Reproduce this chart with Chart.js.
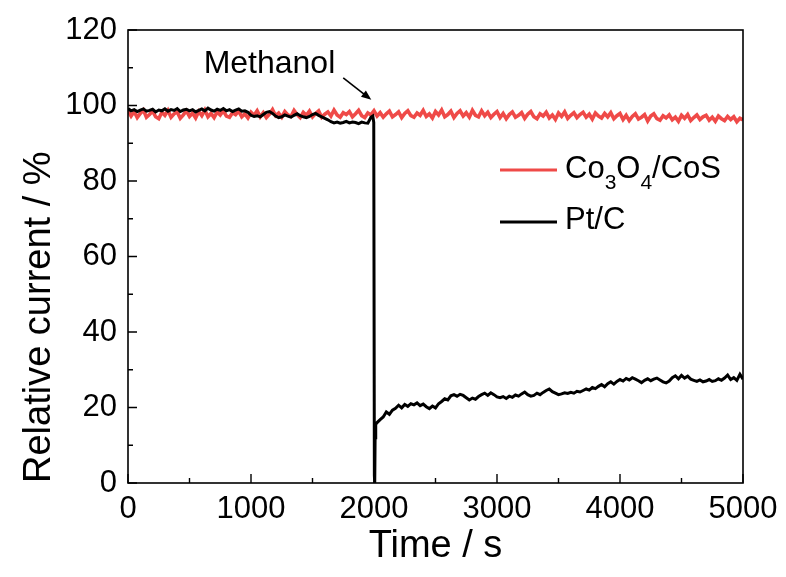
<!DOCTYPE html>
<html>
<head>
<meta charset="utf-8">
<script src="https://cdn.jsdelivr.net/npm/chart.js@4.4.1/dist/chart.umd.min.js"></script>
<style>
    html, body { margin: 0; padding: 0; background: #fff; }
</style>
</head>
<body>
<canvas id="chart" width="786" height="577"></canvas>
<script>
// sampling step of the traces (s)
const sampleStep = 25;

// Co3O4/CoS, t = 0 .. 5000 s
const cosCurrent = [
    98.6, 97.2, 98.4, 96.8, 97.9, 98.8, 96.9, 97.6, 98.5, 97.0, 96.5, 98.2, 97.4, 98.7, 96.9, 97.8, 98.3, 96.6, 97.5, 98.6,
    97.1, 98.0, 96.7, 98.4, 97.3, 98.8, 97.0, 97.9, 96.8, 98.3, 97.5, 98.6, 97.2, 96.9, 98.1, 97.6, 98.5, 97.0, 97.8, 96.7, 98.2,
    97.4, 98.6, 97.0, 98.1, 96.8, 97.7, 98.9, 97.3, 98.0, 96.9, 98.4, 97.5, 97.1, 98.7, 97.6, 96.8, 98.2, 97.4, 98.5, 97.0,
    97.9, 98.6, 96.9, 97.7, 98.3, 97.2, 98.8, 97.5, 96.9, 98.1, 97.6, 98.4, 97.0, 97.8, 98.7, 97.3, 96.8, 98.0, 97.5, 98.6,
    97.2, 98.1, 96.9, 97.8, 98.5, 97.0, 97.6, 98.3, 96.8, 97.9, 98.6, 97.3, 96.9, 98.0, 97.4, 98.7, 97.1, 97.8, 96.7, 98.4,
    97.5, 98.8, 97.0, 97.6, 98.5, 96.8, 97.9, 98.6, 97.2, 98.1, 96.9, 98.7, 97.4, 97.0, 98.6, 97.3, 98.2, 96.8, 97.7, 98.4,
    96.8, 97.9, 96.5, 97.6, 98.3, 96.9, 97.4, 98.1, 96.6, 97.7, 98.4, 97.0, 96.5, 97.8, 97.2, 98.2, 96.7, 97.5, 96.3, 98.0,
    97.1, 98.3, 96.6, 97.4, 98.1, 96.8, 97.6, 98.2, 96.9, 97.7, 96.4, 98.0, 97.2, 96.7, 97.9, 97.0, 98.1, 96.5, 97.3, 97.9,
    96.3, 97.4, 96.0, 97.1, 97.8, 96.4, 96.9, 97.6, 95.9, 97.2, 97.8, 96.5, 96.1, 97.3, 96.7, 97.5, 96.2, 96.9, 95.8, 97.4,
    96.6, 97.6, 96.0, 96.8, 97.5, 96.3, 97.0, 97.4, 96.1, 96.9, 95.8, 97.2, 96.5, 96.0, 97.1, 96.3, 97.0, 95.7, 96.6, 96.2
];

// Pt/C before methanol, t = 0 .. 1975 s
const ptBeforeCurrent = [
    99.2, 98.6, 98.9, 98.4, 98.8, 99.1, 98.5, 98.7, 99.0, 98.3, 98.8, 98.6, 99.1, 98.5, 98.9, 98.7, 99.2, 98.4, 98.8, 99.0,
    98.6, 98.9, 98.3, 98.7, 99.1, 98.6, 99.3, 98.8, 98.5, 99.0, 98.7, 99.2, 98.6, 98.9, 98.4, 98.8, 99.1, 98.5, 98.6, 98.2, 97.4,
    97.1, 97.3, 97.0, 97.6, 98.2, 98.4, 97.9, 97.2, 96.8, 97.0, 97.5, 97.2, 96.9, 97.4, 97.8, 97.3, 97.0, 96.8, 97.1, 97.6,
    97.9, 97.4, 97.0, 96.6, 96.2, 95.7, 95.4, 95.6, 95.3, 95.5, 95.8, 95.4, 95.6, 95.5, 95.2, 95.6, 95.4, 95.3, 96.9
];

// Pt/C at the methanol injection
const ptDropTime = [1990, 1998, 2003, 2006, 2009, 2014];
const ptDropCurrent = [97.2, 95.5, 2.0, 0.0, 12.0, 15.5];

// Pt/C after methanol, t = 2025 .. 5000 s
const ptAfterCurrent = [
    16.0, 16.8, 17.5, 18.8, 18.2, 19.3, 19.8, 20.6, 19.9, 20.8, 20.3, 21.0, 20.7, 21.2, 20.5, 20.9, 20.2, 19.7, 20.4, 19.9,
    21.0, 21.6, 22.3, 22.0, 23.1, 23.4, 23.0, 23.5, 23.2, 22.6, 22.0, 22.5, 22.2, 22.9, 23.4, 23.8, 23.2, 23.9, 23.4, 22.8,
    22.6, 22.9, 22.4, 23.0, 22.7, 23.3, 23.0, 23.6, 24.1, 23.4, 23.0, 23.2, 23.8, 23.4, 24.0, 24.5, 24.9, 24.2, 23.8, 23.4,
    23.6, 23.9, 23.7, 24.0, 23.8, 24.3, 24.1, 24.5, 24.9, 24.6, 25.3, 25.0, 25.6, 26.1, 25.5, 26.3, 26.8, 26.2, 26.9, 27.4,
    27.0, 27.7, 27.3, 27.9, 27.5, 27.1, 26.6, 27.2, 27.6, 27.1, 27.5, 27.8, 27.3, 26.8, 26.5, 27.0, 27.9, 28.4, 27.6, 28.5,
    27.8, 28.3, 27.5, 27.2, 26.9, 27.3, 26.8, 27.0, 27.4, 26.9, 27.1, 27.6, 27.2, 27.8, 28.6, 27.4, 27.9, 27.2, 28.8, 27.5
];

const xTicks = [0, 1000, 2000, 3000, 4000, 5000];
const yTicks = [0, 20, 40, 60, 80, 100, 120];

const seriesNames = ["Co3O4/CoS", "Pt/C"];
const seriesColors = ["#ef4a48", "#000000"];

// annotation anchor in data units
const methanolText = "Methanol";
const methanolLabelAt = [1150, 108.5];
const methanolArrowFrom = [1750, 107.3];
const methanolArrowTo = [1978, 101.5];

const fontFamily = "'Liberation Sans', Arial, sans-serif";

const cosPoints = cosCurrent.map((v, i) => ({ x: i * sampleStep, y: v }));
const ptPoints = [].concat(
    ptBeforeCurrent.map((v, i) => ({ x: i * sampleStep, y: v })),
    ptDropTime.map((t, i) => ({ x: t, y: ptDropCurrent[i] })),
    ptAfterCurrent.map((v, i) => ({ x: 2025 + i * sampleStep, y: v }))
);

// frame, inward ticks, legend with subscripts and the arrow note
const decorPlugin = {
    id: "decor",
    afterDatasetsDraw(chart) {
        const ctx = chart.ctx;
        const area = chart.chartArea;
        const xs = chart.scales.x;
        const ys = chart.scales.y;

        ctx.save();
        ctx.strokeStyle = "#000";
        ctx.lineWidth = 1.6;
        ctx.strokeRect(area.left, area.top, area.right - area.left, area.bottom - area.top);

        ctx.lineWidth = 1.4;
        ctx.beginPath();
        for (let v = 0; v <= 5000; v += 500) {
            const px = xs.getPixelForValue(v);
            const len = v % 1000 === 0 ? 9 : 5;
            ctx.moveTo(px, area.bottom);
            ctx.lineTo(px, area.bottom - len);
        }
        for (let v = 0; v <= 120; v += 10) {
            const py = ys.getPixelForValue(v);
            const len = v % 20 === 0 ? 9 : 5;
            ctx.moveTo(area.left, py);
            ctx.lineTo(area.left + len, py);
        }
        ctx.stroke();

        // legend
        const lx = area.left + 372;
        const rows = [area.top + 140, area.top + 192];
        ctx.lineWidth = 3;
        ctx.textBaseline = "alphabetic";
        ctx.fillStyle = "#000";
        rows.forEach((ry, i) => {
            ctx.strokeStyle = seriesColors[i];
            ctx.beginPath();
            ctx.moveTo(lx, ry);
            ctx.lineTo(lx + 57, ry);
            ctx.stroke();
        });
        let tx = lx + 65;
        const base0 = rows[0] + 8;
        const parts = [["Co", 0], ["3", 1], ["O", 0], ["4", 1], ["/CoS", 0]];
        parts.forEach(([txt, sub]) => {
            ctx.font = (sub ? "21px " : "31px ") + fontFamily;
            ctx.fillText(txt, tx, sub ? base0 + 11 : base0);
            tx += ctx.measureText(txt).width;
        });
        ctx.font = "31px " + fontFamily;
        ctx.fillText(seriesNames[1], lx + 65, rows[1] + 7);

        // methanol note
        ctx.font = "32px " + fontFamily;
        ctx.textAlign = "center";
        ctx.fillText(methanolText, xs.getPixelForValue(methanolLabelAt[0]), ys.getPixelForValue(methanolLabelAt[1]));
        const ax0 = xs.getPixelForValue(methanolArrowFrom[0]);
        const ay0 = ys.getPixelForValue(methanolArrowFrom[1]);
        const ax1 = xs.getPixelForValue(methanolArrowTo[0]);
        const ay1 = ys.getPixelForValue(methanolArrowTo[1]);
        const ang = Math.atan2(ay1 - ay0, ax1 - ax0);
        ctx.strokeStyle = "#000";
        ctx.lineWidth = 1.6;
        ctx.beginPath();
        ctx.moveTo(ax0, ay0);
        ctx.lineTo(ax1 - 6 * Math.cos(ang), ay1 - 6 * Math.sin(ang));
        ctx.stroke();
        ctx.beginPath();
        ctx.moveTo(ax1, ay1);
        ctx.lineTo(ax1 - 10 * Math.cos(ang) + 4 * Math.sin(ang), ay1 - 10 * Math.sin(ang) - 4 * Math.cos(ang));
        ctx.lineTo(ax1 - 10 * Math.cos(ang) - 4 * Math.sin(ang), ay1 - 10 * Math.sin(ang) + 4 * Math.cos(ang));
        ctx.closePath();
        ctx.fill();
        ctx.restore();
    },
};

const ctx = document.getElementById("chart").getContext("2d");
const chart = new Chart(ctx, {
    type: "line",
    data: {
        datasets: [
            {
                label: seriesNames[0],
                data: cosPoints,
                borderColor: seriesColors[0],
                borderWidth: 3.6,
                pointRadius: 0,
                tension: 0,
                order: 2,
            },
            {
                label: seriesNames[1],
                data: ptPoints,
                borderColor: seriesColors[1],
                borderWidth: 3,
                pointRadius: 0,
                tension: 0,
                order: 1,
            },
        ],
    },
    options: {
        responsive: false,
        animation: false,
        devicePixelRatio: 1,
        layout: { padding: { left: 0, right: 43, top: 30, bottom: 0 } },
        scales: {
            x: {
                type: "linear",
                min: 0,
                max: 5000,
                afterBuildTicks: (scale) => {
                    scale.ticks = xTicks.map((v) => ({ value: v }));
                },
                afterFit: (scale) => {
                    scale.height = 94;
                },
                grid: { display: false, drawTicks: false },
                border: { display: false },
                ticks: {
                    color: "#000",
                    padding: 8,
                    maxRotation: 0,
                    callback: (v) => String(v),
                    font: { family: fontFamily, size: 31 },
                },
                title: {
                    display: true,
                    text: "Time / s",
                    color: "#000",
                    padding: { top: 0, bottom: 8 },
                    font: { family: fontFamily, size: 38 },
                },
            },
            y: {
                min: 0,
                max: 120,
                afterBuildTicks: (scale) => {
                    scale.ticks = yTicks.map((v) => ({ value: v }));
                },
                afterFit: (scale) => {
                    scale.width = 128;
                },
                grid: { display: false, drawTicks: false },
                border: { display: false },
                ticks: {
                    color: "#000",
                    padding: 11,
                    callback: (v) => String(v),
                    font: { family: fontFamily, size: 31 },
                },
                title: {
                    display: true,
                    text: "Relative current / %",
                    color: "#000",
                    align: "start",
                    padding: { top: 17, bottom: 0 },
                    font: { family: fontFamily, size: 38 },
                },
            },
        },
        plugins: {
            legend: { display: false },
            tooltip: { enabled: false },
        },
    },
    plugins: [decorPlugin],
});
</script>
</body>
</html>
